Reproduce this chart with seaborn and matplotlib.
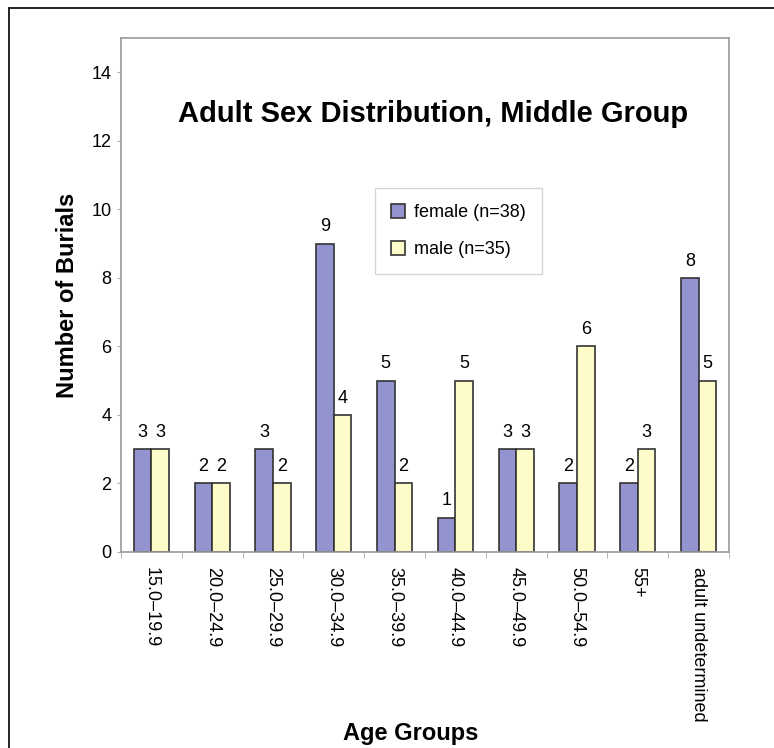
import pandas as pd
import matplotlib
matplotlib.use('Agg')
import matplotlib.pyplot as plt
import seaborn as sns
from matplotlib.lines import Line2D
from matplotlib.ticker import FixedLocator

# Data
age_groups = ['15.0\u201319.9', '20.0\u201324.9', '25.0\u201329.9', '30.0\u201334.9', '35.0\u201339.9',
              '40.0\u201344.9', '45.0\u201349.9', '50.0\u201354.9', '55+', 'adult undetermined']
female = [3, 2, 3, 9, 5, 1, 3, 2, 2, 8]
male = [3, 2, 2, 4, 2, 5, 3, 6, 3, 5]
series_names = ['female (n=38)', 'male (n=35)']

df = pd.DataFrame({
    'Age': age_groups * 2,
    'Count': female + male,
    'Sex': [series_names[0]] * len(age_groups) + [series_names[1]] * len(age_groups),
})

sns.set_style('white')
plt.rcParams['font.family'] = ['Liberation Sans', 'DejaVu Sans']
plt.rcParams['text.color'] = 'black'
plt.rcParams['axes.labelcolor'] = 'black'
plt.rcParams['xtick.color'] = 'black'
plt.rcParams['ytick.color'] = 'black'

fig = plt.figure(figsize=(7.74, 7.48), dpi=100)
ax = fig.add_axes([121 / 774, 1 - 552 / 748, 608 / 774, 514 / 748])

palette = {series_names[0]: '#9393d0', series_names[1]: '#fdfcc8'}
sns.barplot(data=df, x='Age', y='Count', hue='Sex', palette=palette, width=0.58,
            edgecolor='#333333', linewidth=1.2, saturation=1, ax=ax)

# value labels above the bars
for cont in ax.containers:
    ax.bar_label(cont, padding=6, fontsize=13, color='black')

ax.set_ylim(0, 15)
ax.set_xlim(-0.5, len(age_groups) - 0.5)
ax.set_yticks(range(0, 15, 2))
ax.tick_params(axis='y', length=3, color='#aaaaaa', labelcolor='black', labelsize=13, pad=4, left=True)

# categories with tick marks on the boundaries
ax.set_xticks(range(len(age_groups)))
ax.set_xticklabels(age_groups, rotation=270, fontsize=13, va='top', ha='center')
ax.tick_params(axis='x', which='major', length=0, pad=11, labelcolor='black')
ax.xaxis.set_minor_locator(FixedLocator([i - 0.5 for i in range(len(age_groups) + 1)]))
ax.tick_params(axis='x', which='minor', length=4, color='#aaaaaa', bottom=True)

for s in ax.spines.values():
    s.set_color('#999999')
    s.set_linewidth(1.2)

ax.set_xlabel('Age Groups', fontsize=17, fontweight='bold', color='black')
ax.xaxis.set_label_coords(0.477, -0.331)
ax.set_ylabel('Number of Burials', fontsize=17, fontweight='bold', color='black')
ax.yaxis.set_label_coords(-0.069, 0.5)

ax.text(0.513, 0.853, 'Adult Sex Distribution, Middle Group', transform=ax.transAxes,
        ha='center', va='center', fontsize=21, fontweight='bold', color='black')

leg = ax.legend(loc='upper left', bbox_to_anchor=(0.418, 0.708), fontsize=13, frameon=True,
                fancybox=False, edgecolor='#cccccc', handlelength=0.75, handleheight=0.75,
                labelspacing=1.1, borderpad=0.9, borderaxespad=0, handletextpad=0.5,
                labelcolor='black')
leg.get_frame().set_linewidth(1)
leg.set_title(None)

# outer frame (top and left edges visible in the original)
fig.add_artist(Line2D([9 / 774, 9 / 774], [0, 1 - 8 / 748], color='black', lw=1.2, transform=fig.transFigure))
fig.add_artist(Line2D([9 / 774, 1], [1 - 8 / 748, 1 - 8 / 748], color='black', lw=1.2, transform=fig.transFigure))

fig.savefig('out.png', dpi=100)
